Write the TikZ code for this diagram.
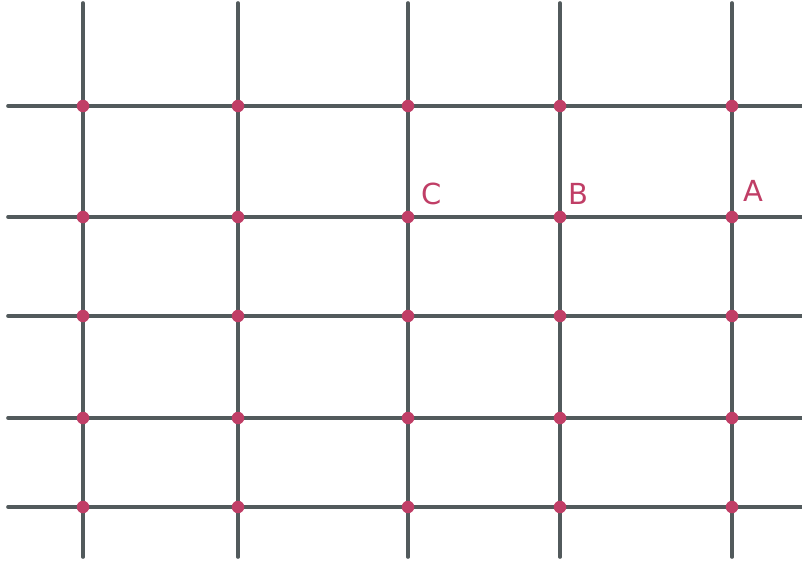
\documentclass[tikz,border=0pt]{standalone}
\usepackage{fontspec}
\setsansfont{DejaVu Sans}
\usetikzlibrary{positioning}
\definecolor{gridc}{RGB}{82,90,92}
\definecolor{dotc}{RGB}{192,62,102}

\begin{document}
\begin{tikzpicture}[
      x=1pt, y=-1pt,
      grid/.style={draw=gridc, line width=3.6pt, line cap=round},
      pt/.style={circle, fill=dotc, inner sep=0pt, minimum size=12.5pt},
      lbl/.style={text=dotc, font=\sffamily\fontsize{29}{29}\selectfont, inner sep=0pt}
    ]
      \useasboundingbox (0,0) rectangle (802,562);

      % line ends
      \foreach \name/\x in {a/83, b/238, c/408, d/560, e/732} {
        \coordinate (top-\name) at (\x,3);
        \coordinate (bot-\name) at (\x,557);
      }
      \foreach \name/\y in {1/106, 2/217, 3/316, 4/418, 5/507} {
        \coordinate (lft-\name) at (8,\y);
        \coordinate (rgt-\name) at (803,\y);
      }

      % grid lines
      \foreach \name in {a,b,c,d,e}
        \draw[grid] (top-\name) -- (bot-\name);
      \foreach \name in {1,...,5}
        \draw[grid] (lft-\name) -- (rgt-\name);

      % crossing points
      \foreach \cname/\x in {a/83, b/238, c/408, d/560, e/732}
        \foreach \rname/\y in {1/106, 2/217, 3/316, 4/418, 5/507}
          \node[pt] (p-\cname\rname) at (\x,\y) {};

      % labels
      \node[lbl, above right=7pt and 9pt of p-c2] (labC) {C};
      \node[lbl, above right=8pt and 4pt of p-d2] (labB) {B};
      \node[lbl, above right=11pt and 7pt of p-e2] (labA) {A};
    \end{tikzpicture}
\end{document}
